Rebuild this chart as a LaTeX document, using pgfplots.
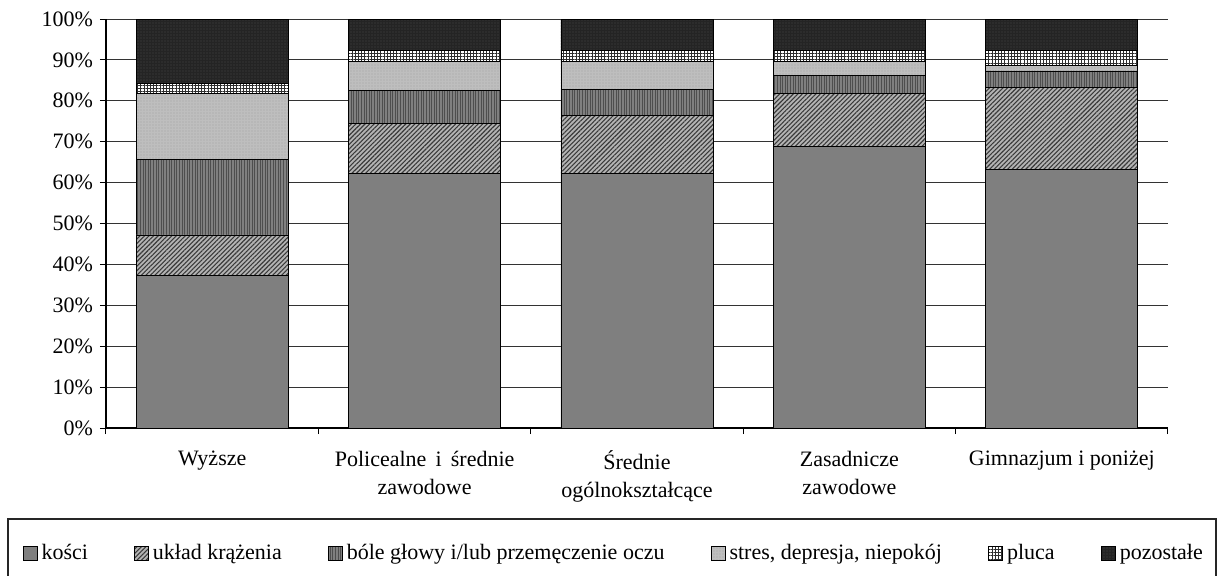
\documentclass[border=0pt]{standalone}
\usepackage{pgfplots}
\pgfplotsset{compat=1.18}
\usepackage{fontspec}
\setmainfont{Liberation Serif}
\usetikzlibrary{patterns.meta}
\definecolor{cKosci}{HTML}{7F7F7F}
\definecolor{cUklad}{HTML}{B4B4B4}
\definecolor{cUkladP}{HTML}{3A3A3A}
\definecolor{cBole}{HTML}{808080}
\definecolor{cBoleP}{HTML}{4E4E4E}
\definecolor{cStres}{HTML}{BEBEBE}
\definecolor{cStresP}{HTML}{A0A0A0}
\definecolor{cPlucaP}{HTML}{2E2E2E}
\definecolor{cPoz}{HTML}{242424}
\definecolor{cPozP}{HTML}{4A4A4A}
\begin{document}
\begin{tikzpicture}[font=\fontsize{11}{14}\selectfont]
\useasboundingbox (-53pt,-73.5pt) rectangle (558.5pt,214pt);
\draw[black!85, line width=0.6pt] (-49pt,-45.5pt) rectangle (555pt,-80pt);
\begin{axis}[
  at={(0,0)}, anchor=south west,
  scale only axis, width=531pt, height=204.5pt,
  ybar stacked, bar width=76pt,
  xmin=-0.5, xmax=4.5, ymin=0, ymax=100,
  ytick={0,10,...,100},
  yticklabel={\pgfmathprintnumber{\tick}\%},
  /pgf/number format/assume math mode=true,
  ymajorgrids, grid style={black!80, line width=0.5pt},
  axis x line*=bottom, axis y line*=left,
  axis line style={black, line width=0.6pt},
  xtick={0,1,2,3,4},
  xticklabels={Wyższe, {Policealne \,i\, średnie\\zawodowe}, {Średnie\\ogólnokształcące}, {Zasadnicze\\zawodowe}, {Gimnazjum i poniżej}},
  xticklabel style={align=center, yshift=-5pt},
  major x tick style={draw=none},
  minor xtick={-0.5,0.5,1.5,2.5,3.5,4.5},
  minor x tick style={black, line width=0.5pt},
  tick align=outside,
  major tick length=3pt, minor tick length=3pt,
  y tick style={black, line width=0.5pt},
  every bar/.append style={draw=black, line width=0.75pt},
  legend columns=6,
  legend style={at={(0.479,-0.3057)}, anchor=center, draw=none, fill=none,
     /tikz/every even column/.append style={column sep=21pt},
     font=\fontsize{11}{14}\selectfont},
  legend image code/.code={\draw[#1, line width=0.5pt] (0pt,-3.5pt) rectangle (7pt,3.5pt);},
]
\addplot[fill=cKosci] coordinates {(0,37.4) (1,62.3) (2,62.3) (3,68.8) (4,63.3)};
\addplot[fill=cUklad, postaction={pattern={Lines[angle=45,distance=1.6pt,line width=0.55pt]}, pattern color=cUkladP}] coordinates {(0,9.8) (1,12.2) (2,14.2) (3,13.0) (4,20.0)};
\addplot[fill=cBole, postaction={pattern={Lines[angle=90,distance=1.3pt,line width=0.45pt]}, pattern color=cBoleP}] coordinates {(0,18.5) (1,8.0) (2,6.3) (3,4.3) (4,4.0)};
\addplot[fill=cStres, postaction={pattern={Dots[distance=1.5pt,radius=0.35pt]}, pattern color=cStresP}] coordinates {(0,16.1) (1,7.1) (2,6.8) (3,3.5) (4,1.3)};
\addplot[fill=white, postaction={pattern={Hatch[angle=0,distance=1.6pt,line width=0.5pt]}, pattern color=cPlucaP}] coordinates {(0,2.5) (1,2.8) (2,2.8) (3,2.8) (4,3.8)};
\addplot[fill=cPoz, postaction={pattern={Dots[distance=1.5pt,radius=0.35pt]}, pattern color=cPozP}] coordinates {(0,15.7) (1,7.6) (2,7.6) (3,7.6) (4,7.6)};
\legend{kości, układ krążenia, bóle głowy i/lub przemęczenie oczu, {stres, depresja, niepokój}, pluca, pozostałe}
\end{axis}
\end{tikzpicture}
\end{document}
